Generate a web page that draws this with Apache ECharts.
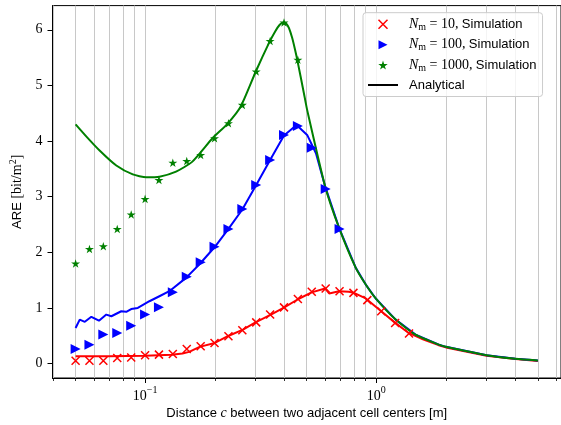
<!DOCTYPE html>
<html><head><meta charset="utf-8">
<script src="https://cdn.jsdelivr.net/npm/echarts@6/dist/echarts.min.js"></script>
<style>html,body{margin:0;padding:0;background:#fff}#c{width:561px;height:425px}</style>
</head><body><div id="c"></div>
<script>
// ---- data ----
const simX = [0.0500,0.0574,0.0659,0.0757,0.0870,0.0999,0.1147,0.1317,0.1513,0.1738,0.1995,0.2292,0.2632,0.3022,0.3471,0.3986,0.4577,0.5256,0.6037,0.6933,0.7962,0.9143,1.0500,1.2058,1.3848];
const sim10 = [0.05,0.05,0.05,0.10,0.11,0.15,0.16,0.17,0.26,0.31,0.37,0.49,0.60,0.74,0.88,1.01,1.16,1.29,1.35,1.30,1.27,1.14,0.94,0.73,0.54];
const sim100 = [0.26,0.34,0.52,0.55,0.68,0.88,1.01,1.28,1.56,1.82,2.10,2.42,2.78,3.21,3.66,4.11,4.27,3.88,3.14,2.42];
const sim1000 = [1.80,2.06,2.11,2.42,2.68,2.96,3.30,3.61,3.64,3.75,4.05,4.32,4.65,5.25,5.80,6.13,5.46];

const ana10X = [0.05,0.07,0.1,0.13,0.145,0.155,0.172,0.2,0.23,0.265,0.30,0.35,0.40,0.46,0.525,0.60,0.625,0.69,0.76,0.80,0.90,1.05,1.2,1.38,1.6,1.86,2.0,3.0,4.0,5.0];
const ana10Y = [0.13,0.13,0.14,0.16,0.18,0.21,0.30,0.37,0.50,0.61,0.74,0.88,1.01,1.16,1.28,1.35,1.26,1.30,1.29,1.27,1.17,0.94,0.74,0.55,0.43,0.33,0.29,0.14,0.08,0.045];

const ana100X = [0.05,0.0521,0.0548,0.0585,0.0631,0.0679,0.0714,0.0788,0.0828,0.0870,0.0929,0.1043,0.1152,0.1272,0.1502,0.1714,0.1995,0.2292,0.2632,0.3022,0.3471,0.3986,0.4518,0.502,0.548,0.601,0.690,0.815,0.900,0.994,1.212,1.478,1.864,2.0,3.0,4.0,5.0];
const ana100Y = [0.64,0.79,0.75,0.84,0.77,0.88,0.85,0.94,0.93,0.98,1.00,1.12,1.21,1.30,1.54,1.78,2.09,2.42,2.77,3.21,3.66,4.10,4.29,4.11,3.78,3.18,2.44,1.72,1.42,1.17,0.79,0.52,0.34,0.30,0.15,0.085,0.055];

const ana1000X = [0.05,0.0557,0.0635,0.075,0.0884,0.101,0.1153,0.136,0.160,0.1955,0.227,0.259,0.301,0.343,0.365,0.382,0.396,0.408,0.419,0.432,0.444,0.455,0.486,0.502,0.601,0.690,0.815,0.900,0.994,1.212,1.478,1.864,2.0,3.0,4.0,5.0];
const ana1000Y = [4.30,4.08,3.83,3.56,3.40,3.35,3.36,3.45,3.63,4.05,4.31,4.62,5.25,5.76,5.97,6.09,6.13,6.11,6.03,5.86,5.66,5.46,4.86,4.56,3.18,2.44,1.72,1.42,1.17,0.79,0.52,0.34,0.30,0.15,0.085,0.055];

const nmValues = ['10','100','1000'];
const xMajorTicks = [0.1, 1];
const xMinorTicks = [0.04,0.05,0.06,0.07,0.08,0.09,0.1,0.2,0.3,0.4,0.5,0.6,0.7,0.8,0.9,1,2,3,4,5,6];
const yTicks = [0,1,2,3,4,5,6];
const xMin = 0.03972, xMax = 6.2946, yMin = -0.26, yMax = 6.435;

// ---- helpers ----
const zip = (xs, ys) => ys.map((y, i) => [xs[i], y]);
const crossPath = 'path://M0,0L10,10M10,0L0,10';
const triPath = 'path://M0,0L10,5L0,10Z';
const starPath = 'path://M50,0L61.2,34.5L97.6,34.5L68.2,55.9L79.4,90.5L50,69.1L20.6,90.5L31.8,55.9L2.4,34.5L38.8,34.5Z';
const linePath = 'path://M0,0L30,0L30,2L0,2Z';
const SERIF = 'Liberation Serif', SANS = 'Liberation Sans';
const names = nmValues.map(n => 'N_m = ' + n + ', Simulation');

const chart = echarts.init(document.getElementById('c'), null, {renderer: 'canvas'});
const lg10 = Math.log10;

chart.setOption({
  animation: false,
  backgroundColor: '#ffffff',
  grid: {left: 52.5, top: 5.6, width: 510.4, height: 372.9, show: true, borderColor: '#000', borderWidth: 1, backgroundColor: 'transparent'},
  xAxis: [
    { // data axis (log)
      type: 'log', logBase: 10, min: xMin, max: xMax, position: 'bottom',
      axisLine: {show: true, onZero: false, lineStyle: {color: '#000', width: 1}},
      axisTick: {show: false}, axisLabel: {show: false}, splitLine: {show: false},
      name: '{t|Distance }{c|c}{t| between two adjacent cell centers [m]}',
      nameLocation: 'middle', nameGap: 27,
      nameTextStyle: {rich: {
        t: {fontFamily: SANS, fontSize: 13, color: '#000', lineHeight: 16},
        c: {fontFamily: SERIF, fontStyle: 'italic', fontSize: 14, color: '#000', lineHeight: 16}
      }}
    },
    { // major ticks + labels (log10 space)
      type: 'value', min: lg10(xMin), max: lg10(xMax), position: 'bottom',
      axisLine: {show: false, onZero: false},
      axisTick: {show: true, length: 5, customValues: xMajorTicks.map(lg10), lineStyle: {color: '#000', width: 1}},
      axisLabel: {show: true, margin: 7, customValues: xMajorTicks.map(lg10),
        formatter: v => { const e = Math.round(v); return '{b|10}{s|' + (e < 0 ? '\u2212' : '') + Math.abs(e) + '}'; },
        rich: {
          b: {fontFamily: SERIF, fontSize: 14, color: '#000', lineHeight: 18, verticalAlign: 'bottom'},
          s: {fontFamily: SERIF, fontSize: 10, color: '#000', lineHeight: 11, verticalAlign: 'top'}
        }},
      splitLine: {show: false}
    },
    { // minor ticks + vertical grid (log10 space)
      type: 'value', min: lg10(xMin), max: lg10(xMax), position: 'bottom',
      axisLine: {show: false, onZero: false},
      axisTick: {show: true, length: 3, customValues: xMinorTicks.map(lg10), lineStyle: {color: '#000', width: 0.8}},
      axisLabel: {show: false},
      splitLine: {show: true, lineStyle: {color: '#c8c8c8', width: 1}}
    }
  ],
  yAxis: {
    type: 'value', min: yMin, max: yMax,
    axisLine: {show: true, onZero: false, lineStyle: {color: '#000', width: 1}},
    axisTick: {show: true, length: 5, customValues: yTicks, lineStyle: {color: '#000', width: 1}},
    axisLabel: {customValues: yTicks, margin: 10, fontFamily: SERIF, fontSize: 14, color: '#000'},
    splitLine: {show: false},
    name: '{t|ARE }{m|[bit/m}{sup|2}{m|]}',
    nameLocation: 'middle', nameGap: 25,
    nameTextStyle: {rich: {
      t: {fontFamily: SANS, fontSize: 13, color: '#000', lineHeight: 18},
      m: {fontFamily: SERIF, fontSize: 14, color: '#000', lineHeight: 18},
      sup: {fontFamily: SERIF, fontSize: 10, color: '#000', lineHeight: 10, verticalAlign: 'top'}
    }}
  },
  legend: {
    orient: 'vertical', left: 363, top: 12.7,
    itemWidth: 30, itemHeight: 9, itemGap: 5.4,
    padding: [4.6, 6, 5, 5],
    backgroundColor: 'rgba(255,255,255,0.8)', borderColor: '#cccccc', borderWidth: 1, borderRadius: 3,
    data: [
      {name: names[0], icon: crossPath, itemStyle: {color: '#ff0000', borderColor: '#ff0000', borderWidth: 1.5, opacity: 1}},
      {name: names[1], icon: triPath, itemStyle: {color: '#0000ff', borderWidth: 0, opacity: 1}},
      {name: names[2], icon: starPath, itemStyle: {color: '#008000', borderWidth: 0, opacity: 1}},
      {name: 'Analytical', icon: linePath, itemStyle: {color: '#000000', borderWidth: 0, opacity: 1}}
    ],
    formatter: function (name) {
      if (name === 'Analytical') return '{ta|Analytical}';
      const n = nmValues[names.indexOf(name)];
      return '{ni|N}{sub|m}{eq| = ' + n + ',} {t|Simulation}';
    },
    textStyle: {rich: {
      ni: {fontFamily: SERIF, fontStyle: 'italic', fontSize: 14, color: '#000', lineHeight: 16, padding: [0, 0, 0, 6]},
      sub: {fontFamily: SERIF, fontSize: 10, color: '#000', lineHeight: 10, verticalAlign: 'bottom'},
      eq: {fontFamily: SERIF, fontSize: 14, color: '#000', lineHeight: 16},
      t: {fontFamily: SANS, fontSize: 13, color: '#000', lineHeight: 16},
      ta: {fontFamily: SANS, fontSize: 13, color: '#000', lineHeight: 16, padding: [0, 0, 0, 6]}
    }}
  },
  series: [
    {name: names[0], type: 'scatter', xAxisIndex: 0, data: zip(simX, sim10), symbol: crossPath, symbolKeepAspect: true, symbolSize: 8,
      itemStyle: {color: '#ff0000', borderColor: '#ff0000', borderWidth: 1.5, opacity: 1}, z: 3},
    {name: 'ana10', type: 'line', xAxisIndex: 0, data: zip(ana10X, ana10Y), symbol: 'none', showSymbol: false,
      lineStyle: {color: '#ff0000', width: 2}, itemStyle: {color: '#ff0000'}, z: 3},
    {name: names[1], type: 'scatter', xAxisIndex: 0, data: zip(simX, sim100), symbol: triPath, symbolKeepAspect: true, symbolSize: 10,
      itemStyle: {color: '#0000ff', opacity: 1}, z: 3},
    {name: 'ana100', type: 'line', xAxisIndex: 0, data: zip(ana100X, ana100Y), symbol: 'none', showSymbol: false,
      lineStyle: {color: '#0000ff', width: 2}, itemStyle: {color: '#0000ff'}, z: 3},
    {name: names[2], type: 'scatter', xAxisIndex: 0, data: zip(simX, sim1000), symbol: starPath, symbolKeepAspect: true, symbolSize: 9,
      itemStyle: {color: '#008000', opacity: 1}, z: 3},
    {name: 'ana1000', type: 'line', xAxisIndex: 0, data: zip(ana1000X, ana1000Y), symbol: 'none', showSymbol: false, smooth: 0.2,
      lineStyle: {color: '#008000', width: 2}, itemStyle: {color: '#008000'}, z: 3},
    {name: 'Analytical', type: 'line', xAxisIndex: 0, data: [], symbol: 'none', lineStyle: {color: '#000', width: 2}, itemStyle: {color: '#000'}}
  ]
});
</script></body></html>
